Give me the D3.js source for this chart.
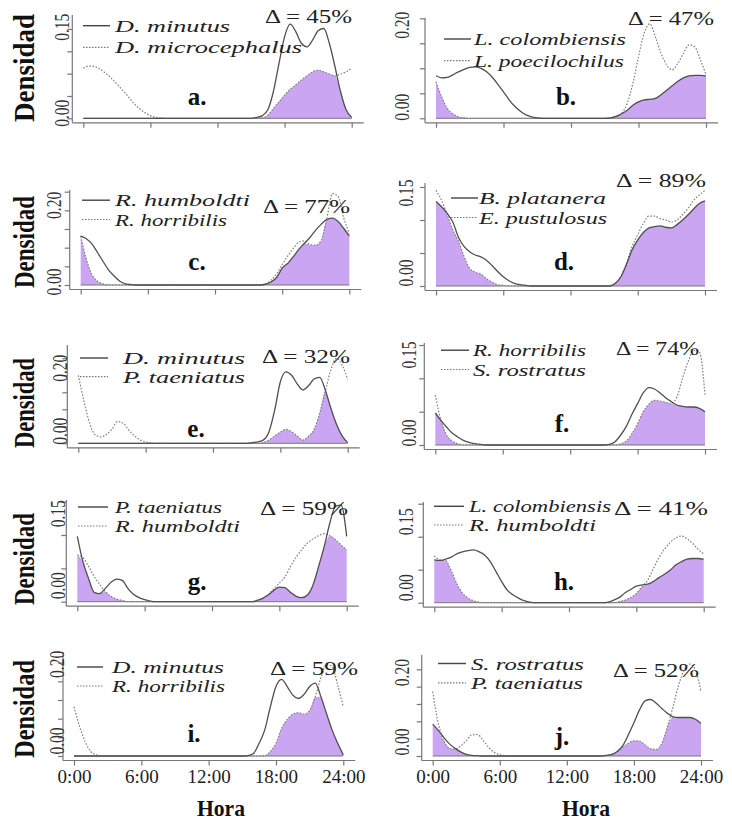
<!DOCTYPE html>
<html><head><meta charset="utf-8">
<script src="https://cdn.jsdelivr.net/npm/d3@7"></script>
<style>body{margin:0;background:#fff}svg{display:block}</style>
</head><body>
<svg id="chart" width="732" height="823"></svg>
<script>
// ---------------- DATA ----------------
const hours = [0,0.5,1,1.5,2,2.5,3,3.5,4,4.5,5,5.5,6,6.5,7,7.5,8,8.5,9,9.5,10,10.5,11,11.5,12,12.5,13,13.5,14,14.5,15,15.5,16,16.5,17,17.5,18,18.5,19,19.5,20,20.5,21,21.5,22,22.5,23,23.5,24];
const xTickValues = [0,6,12,18,24];
const xTickLabels = ["0:00","6:00","12:00","18:00","24:00"];
const panelLetters = ["a.","b.","c.","d.","e.","f.","g.","h.","i.","j."];
const solidNames  = ["D. minutus","L. colombiensis","R. humboldti","B. platanera","D. minutus","R. horribilis","P. taeniatus","L. colombiensis","D. minutus","S. rostratus"];
const dottedNames = ["D. microcephalus","L. poecilochilus","R. horribilis","E. pustulosus","P. taeniatus","S. rostratus","R. humboldti","R. humboldti","R. horribilis","P. taeniatus"];
const overlapPct = [45,47,77,89,32,74,59,41,59,52];
const yTopLabel = [0.15,0.20,0.20,0.15,0.20,0.15,0.15,0.15,0.20,0.20];

const a1 = [0,0,0,0,0,0,0,0,0,0, 0,0,0,0,0,0,0,0,0,0, 0,0,0,0,0,0,0,0,0,0, 0, 0.002,0.006,0.019,0.06,0.123,0.183,0.211,0.194,0.168,0.16,0.175,0.196,0.201,0.168,0.116,0.06,0.019,0.002];
const a2 = [0.112,0.117,0.116,0.11,0.101,0.09,0.077,0.063,0.049,0.034,0.022,0.013,0.006,0.002,0.001, 0,0,0,0,0,0,0,0,0,0, 0,0,0,0,0,0,0, 0.001,0.007,0.022,0.037,0.052,0.065,0.075,0.086,0.095,0.104,0.108,0.104,0.099,0.095,0.099,0.104,0.112];
const b1 = [0.085,0.081,0.082,0.087,0.093,0.098,0.102,0.103,0.1,0.093,0.082,0.068,0.053,0.037,0.024,0.014,0.007,0.003,0.001, 0,0,0,0,0,0,0,0,0,0, 0,0, 0.001,0.004,0.009,0.016,0.026,0.033,0.037,0.038,0.04,0.047,0.056,0.065,0.074,0.081,0.085,0.086,0.086,0.085];
const b2 = [0.073,0.043,0.02,0.009,0.003,0.001, 0,0,0,0,0,0,0,0,0,0, 0,0,0,0,0,0,0,0,0,0, 0,0,0,0,0,0, 0.002,0.01,0.03,0.07,0.123,0.17,0.189,0.163,0.13,0.107,0.097,0.11,0.13,0.147,0.143,0.117,0.087];
const c1 = [0.131,0.124,0.11,0.087,0.063,0.04,0.024,0.01,0.003,0.001, 0,0,0,0,0,0,0,0,0,0, 0,0,0,0,0,0,0,0,0,0, 0,0,0, 0.002,0.008,0.02,0.045,0.058,0.076,0.096,0.112,0.128,0.147,0.163,0.176,0.179,0.17,0.152,0.131];
const c2 = [0.131,0.07,0.028,0.01,0.003, 0,0,0,0,0,0,0,0,0,0, 0,0,0,0,0,0,0,0,0,0, 0,0,0,0,0,0,0,0, 0.003,0.013,0.03,0.054,0.078,0.098,0.115,0.118,0.108,0.107,0.12,0.18,0.245,0.237,0.18,0.138];
const d1 = [0.128,0.12,0.11,0.097,0.074,0.06,0.052,0.047,0.044,0.039,0.031,0.022,0.014,0.008,0.004,0.002,0.001, 0,0,0,0,0,0,0,0,0,0, 0,0,0,0,0, 0.004,0.014,0.033,0.055,0.07,0.081,0.088,0.09,0.091,0.089,0.088,0.093,0.1,0.108,0.117,0.125,0.129];
const d2 = [0.145,0.13,0.108,0.085,0.068,0.045,0.027,0.021,0.018,0.011,0.006,0.002,0.001, 0,0,0,0,0,0,0,0,0,0, 0,0,0,0,0,0,0,0,0, 0.004,0.015,0.035,0.06,0.078,0.095,0.106,0.106,0.102,0.1,0.097,0.1,0.108,0.118,0.13,0.138,0.145];
const e1 = [0,0,0,0,0,0,0,0,0,0, 0,0,0,0,0,0,0,0,0,0, 0,0,0,0,0,0,0,0,0,0, 0, 0.002,0.004,0.01,0.035,0.098,0.181,0.21,0.2,0.175,0.157,0.169,0.189,0.194,0.157,0.103,0.056,0.022,0.002];
const e2 = [0.2,0.125,0.06,0.025,0.019,0.026,0.042,0.064,0.059,0.039,0.022,0.01,0.004,0.001, 0,0,0,0,0,0,0,0,0,0, 0,0,0,0,0,0,0,0,0, 0.003,0.01,0.022,0.033,0.041,0.034,0.022,0.01,0.02,0.041,0.088,0.152,0.216,0.25,0.23,0.188];
const f1 = [0.048,0.037,0.027,0.018,0.012,0.007,0.004,0.002,0.001, 0,0,0,0,0,0,0,0,0,0, 0,0,0,0,0,0,0,0,0,0, 0,0, 0.001,0.005,0.015,0.028,0.046,0.062,0.078,0.086,0.084,0.078,0.071,0.065,0.06,0.058,0.057,0.057,0.055,0.05];
const f2 = [0.075,0.037,0.015,0.006,0.002, 0,0,0,0,0,0,0,0,0,0, 0,0,0,0,0,0,0,0,0,0, 0,0,0,0,0,0,0,0, 0.002,0.006,0.017,0.032,0.05,0.061,0.067,0.066,0.064,0.062,0.072,0.1,0.125,0.142,0.14,0.075];
const g1 = [0.098,0.06,0.035,0.014,0.012,0.02,0.029,0.034,0.032,0.02,0.011,0.006,0.003,0.001, 0,0,0,0,0,0,0,0,0,0, 0,0,0,0,0,0,0,0, 0.002,0.005,0.01,0.017,0.022,0.021,0.014,0.008,0.006,0.01,0.025,0.053,0.083,0.118,0.143,0.145,0.098];
const g2 = [0.07,0.066,0.053,0.038,0.026,0.015,0.008,0.004,0.002, 0,0,0,0,0,0,0,0,0,0, 0,0,0,0,0,0,0,0,0,0, 0,0,0, 0.001,0.005,0.011,0.019,0.028,0.037,0.053,0.067,0.078,0.088,0.094,0.099,0.102,0.099,0.093,0.085,0.078];
const h1 = [0.065,0.064,0.066,0.069,0.074,0.077,0.079,0.08,0.077,0.072,0.062,0.047,0.032,0.019,0.012,0.007,0.003,0.001, 0,0,0,0,0,0,0,0,0,0, 0,0,0, 0.001,0.004,0.008,0.015,0.02,0.025,0.027,0.028,0.032,0.038,0.043,0.049,0.057,0.062,0.066,0.067,0.067,0.066];
const h2 = [0.071,0.065,0.064,0.049,0.029,0.015,0.007,0.003,0.001, 0,0,0,0,0,0,0,0,0,0, 0,0,0,0,0,0,0,0,0,0, 0,0,0,0, 0.002,0.004,0.008,0.014,0.024,0.034,0.051,0.068,0.081,0.091,0.098,0.101,0.097,0.09,0.081,0.074];
const i1 = [0,0,0,0,0,0,0,0,0,0, 0,0,0,0,0,0,0,0,0,0, 0,0,0,0,0,0,0,0,0,0, 0, 0.001,0.007,0.034,0.07,0.132,0.186,0.205,0.186,0.163,0.154,0.165,0.186,0.195,0.159,0.114,0.07,0.034,0.003];
const i2 = [0.132,0.079,0.038,0.012,0.003, 0,0,0,0,0,0,0,0,0,0, 0,0,0,0,0,0,0,0,0,0, 0,0,0,0,0,0,0,0,0, 0.001,0.012,0.034,0.074,0.098,0.112,0.116,0.112,0.122,0.158,0.21,0.245,0.24,0.19,0.132];
const j1 = [0.092,0.074,0.053,0.035,0.022,0.012,0.005,0.002,0.001, 0,0,0,0,0,0,0,0,0,0, 0,0,0,0,0,0,0,0,0,0, 0,0, 0.002,0.004,0.013,0.03,0.061,0.096,0.133,0.159,0.163,0.152,0.137,0.123,0.113,0.111,0.111,0.111,0.106,0.094];
const j2 = [0.186,0.094,0.043,0.022,0.019,0.029,0.044,0.061,0.062,0.046,0.025,0.011,0.004,0.001, 0,0,0,0,0,0,0,0,0,0, 0,0,0,0,0,0,0, 0.001,0.005,0.012,0.025,0.037,0.044,0.043,0.032,0.021,0.019,0.037,0.085,0.142,0.205,0.248,0.265,0.248,0.186];

const solidSeries  = [a1,b1,c1,d1,e1,f1,g1,h1,i1,j1];
const dottedSeries = [a2,b2,c2,d2,e2,f2,g2,h2,i2,j2];

// ---------------- LAYOUT (positions only) ----------------
const layout = [
 {x0:83.3, x1:351.7, base:118.3, ppu:446.7, top:15,  labX:69,  labOff:[-5,-24]},
 {x0:436,  x1:706,   base:118.3, ppu:500,   top:18,  labX:409, labOff:[-11,7]},
 {x0:80.7, x1:349.3, base:285,   ppu:373.3, top:190, labX:61,  labOff:[-3,-5]},
 {x0:436,  x1:705,   base:286,   ppu:660,   top:183, labX:413, labOff:[-13,6]},
 {x0:78.3, x1:347.7, base:443.3, ppu:340,   top:345, labX:67,  labOff:[-12,-7]},
 {x0:435.3,x1:705,   base:445,   ppu:666.7, top:343, labX:416, labOff:[-12,10]},
 {x0:77.3, x1:346.7, base:601.7, ppu:666.7, top:500, labX:65,  labOff:[-16,12]},
 {x0:434.3,x1:703.7, base:602.7, ppu:660,   top:502, labX:413, labOff:[-15,18]},
 {x0:74,   x1:343.3, base:756,   ppu:373.3, top:652, labX:64,  labOff:[-15,-17]},
 {x0:432.7,x1:701,   base:756,   ppu:346.7, top:655, labX:409, labOff:[-14,-14]}
];
const legendLayout = [
 {dx0:83, dx1:110, tx:115, b1:31.7, b2:53.3, w1:115, w2:187},
 {dx0:444,dx1:471, tx:474, b1:45,   b2:66.7, w1:152, w2:150},
 {dx0:82, dx1:110, tx:115, b1:206.2,b2:225.5,w1:135, w2:112},
 {dx0:451,dx1:478, tx:479, b1:204,  b2:223.5,w1:127, w2:128},
 {dx0:80, dx1:108, tx:123, b1:364,  b2:382.7,w1:122, w2:122},
 {dx0:441,dx1:469, tx:473, b1:356.2,b2:375.5,w1:113, w2:113},
 {dx0:78, dx1:108, tx:115, b1:513,  b2:532,  w1:107, w2:125},
 {dx0:434,dx1:464, tx:469, b1:512.3,b2:531,  w1:142, w2:127},
 {dx0:77, dx1:103, tx:112, b1:673,  b2:692,  w1:112, w2:113},
 {dx0:438,dx1:466, tx:471, b1:669.5,b2:688.8,w1:113, w2:112}
];
const deltaLayout = [
 {x:265,y:23.3,w:87},{x:628,y:25,w:86},{x:263,y:213.3,w:87},{x:616,y:186.7,w:90},{x:262,y:363.3,w:88},
 {x:616,y:355,w:83},{x:260,y:515,w:88},{x:614,y:515,w:94},{x:270,y:675,w:88},{x:613,y:676.7,w:86}
];
const letterLayout = [
 {x:197,y:105},{x:566,y:105},{x:197,y:270},{x:564,y:270},{x:196,y:437},
 {x:562,y:432},{x:197,y:590},{x:564,y:590},{x:194,y:742},{x:562,y:745}
];
const densLayout = [{y:68,len:108},{y:242,len:92},{y:403,len:90},{y:559,len:92},{y:709,len:98}];
const horaX = [221, 586];

const serif = "'Liberation Serif','Times New Roman',Times,serif";
const fillColor = "#c9a5f2";
const svg = d3.select("#chart");

layout.forEach((L, k) => {
  const x = d3.scaleLinear().domain([0,24]).range([L.x0, L.x1]);
  const y = d3.scaleLinear().domain([0,1]).range([L.base, L.base - L.ppu]);
  const g = svg.append("g");
  const s = solidSeries[k], d = dottedSeries[k];
  const ov = s.map((v,i) => Math.min(v, d[i]));
  const area = d3.area().x((v,i)=>x(hours[i])).y0(y(0)).y1(v=>y(v)).curve(d3.curveMonotoneX);
  const line = d3.line().x((v,i)=>x(hours[i])).y(v=>y(v)).curve(d3.curveMonotoneX);

  g.append("path").attr("d", area(ov)).attr("fill", fillColor);
  g.append("line").attr("x1", x(0)).attr("x2", x(24)).attr("y1", y(0)).attr("y2", y(0))
    .attr("stroke","#777").attr("stroke-width",1);
  g.append("path").attr("d", line(d)).attr("fill","none").attr("stroke","#808080")
    .attr("stroke-width",1.2).attr("stroke-dasharray","1.6,1.6");
  g.append("path").attr("d", line(s)).attr("fill","none").attr("stroke","#505050").attr("stroke-width",1.3);

  // L-shaped box
  const bx = L.x0 - 11, by = L.base + 4.5, bxr = L.x1 + 12;
  g.append("line").attr("x1",bx).attr("x2",bxr).attr("y1",by).attr("y2",by).attr("stroke","#777").attr("stroke-width",1.2);
  g.append("line").attr("x1",bx).attr("x2",bx).attr("y1",L.top).attr("y2",by).attr("stroke","#777").attr("stroke-width",1.2);

  // x axis ticks (labels only on bottom row)
  const bottomRow = k >= 8;
  const xAxis = d3.axisBottom(x).tickValues(xTickValues).tickSize(5).tickPadding(4)
    .tickFormat((v,i) => bottomRow ? xTickLabels[i] : "");
  const xa = g.append("g").attr("transform", `translate(0,${by})`).call(xAxis);
  xa.select(".domain").remove();
  xa.selectAll(".tick line").attr("stroke","#777").attr("stroke-width",1.2);
  xa.selectAll(".tick text").attr("font-family", serif).attr("font-size", 19).attr("fill","#222");

  // y axis ticks every 0.05
  const yTicks = d3.range(0, 0.3001, 0.05).filter(v => y(v) >= L.top - 0.5);
  const yAxis = d3.axisLeft(y).tickValues(yTicks).tickSize(5).tickFormat("");
  const ya = g.append("g").attr("transform", `translate(${bx},0)`).call(yAxis);
  ya.select(".domain").remove();
  ya.selectAll(".tick line").attr("stroke","#777").attr("stroke-width",1.2);

  // y labels (rotated)
  [0, yTopLabel[k]].forEach((v, j) => {
    const yy = y(v) + L.labOff[j];
    g.append("text")
      .attr("transform", `translate(${L.labX},${yy}) rotate(-90) scale(1,1.35)`)
      .attr("text-anchor","middle").attr("font-family", serif).attr("font-size", 15.5)
      .attr("fill","#333").text(d3.format(".2f")(v));
  });

  // legend
  const lg = legendLayout[k];
  g.append("line").attr("x1",lg.dx0).attr("x2",lg.dx1).attr("y1",lg.b1-6).attr("y2",lg.b1-6)
    .attr("stroke","#444").attr("stroke-width",1.4);
  g.append("line").attr("x1",lg.dx0).attr("x2",lg.dx1).attr("y1",lg.b2-6).attr("y2",lg.b2-6)
    .attr("stroke","#777").attr("stroke-width",1.2).attr("stroke-dasharray","1.5,1.5");
  [[solidNames[k], lg.b1, lg.w1],[dottedNames[k], lg.b2, lg.w2]].forEach(([t, b, w]) => {
    g.append("text").attr("x", lg.tx).attr("y", b).attr("font-family", serif).attr("font-style","italic")
      .attr("font-size", 17.5).attr("fill","#222").attr("textLength", w).attr("lengthAdjust","spacingAndGlyphs").text(t);
  });

  // overlap label
  const dl = deltaLayout[k];
  g.append("text").attr("x", dl.x).attr("y", dl.y).attr("font-family", serif).attr("font-size", 19)
    .attr("fill","#222").attr("textLength", dl.w).attr("lengthAdjust","spacingAndGlyphs")
    .text(`\u0394 = ${overlapPct[k]}%`);

  // panel letter
  const lt = letterLayout[k];
  g.append("text").attr("x", lt.x).attr("y", lt.y).attr("text-anchor","middle").attr("font-family", serif)
    .attr("font-weight","bold").attr("font-size", 25).attr("fill","#111").text(panelLetters[k]);

  // y title for left column
  if (k % 2 === 0) {
    const dn = densLayout[k/2];
    g.append("text").attr("transform", `translate(34,${dn.y}) rotate(-90) scale(1,1.15)`)
      .attr("text-anchor","middle").attr("font-family", serif).attr("font-weight","bold")
      .attr("font-size", 25).attr("fill","#111").attr("textLength", dn.len).attr("lengthAdjust","spacingAndGlyphs")
      .text("Densidad");
  }
  // x title for bottom row
  if (bottomRow) {
    g.append("text").attr("x", horaX[k - 8]).attr("y", 816).attr("text-anchor","middle")
      .attr("font-family", serif).attr("font-weight","bold").attr("font-size", 24).attr("fill","#111")
      .attr("textLength", 48).attr("lengthAdjust","spacingAndGlyphs").text("Hora");
  }
});
</script>
</body></html>
